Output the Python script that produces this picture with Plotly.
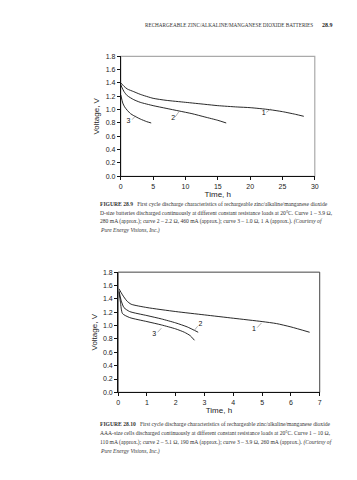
import plotly.graph_objects as go

# ---- Data: Figure 28.9 (D-size) ----
d_t1 = [0, 0.5, 1, 2, 3, 5, 7, 10, 13, 15, 18, 20, 23, 25, 27, 28.3]
d_v1 = [1.40, 1.35, 1.31, 1.27, 1.23, 1.17, 1.14, 1.11, 1.08, 1.06, 1.04, 1.03, 1.00, 0.97, 0.93, 0.90]
d_t2 = [0, 0.5, 1, 2, 3, 5, 7, 9, 11, 13, 15, 16.3]
d_v2 = [1.37, 1.27, 1.21, 1.15, 1.11, 1.06, 1.02, 0.98, 0.94, 0.89, 0.84, 0.80]
d_t3 = [0, 0.3, 0.6, 1, 1.5, 2, 3, 4, 4.7]
d_v3 = [1.22, 1.10, 1.04, 0.99, 0.94, 0.91, 0.86, 0.82, 0.80]
d_labels = ["1", "2", "3"]
d_label_t = [22.1, 8.1, 1.2]
d_label_v = [0.94, 0.87, 0.82]
d_leader_t = [[22.5, 23.2], [8.4, 9.0], [1.75, 2.3]]
d_leader_v = [[0.96, 1.01], [0.89, 0.97], [0.85, 0.91]]

# ---- Data: Figure 28.10 (AAA-size) ----
a_t1 = [0.03, 0.15, 0.3, 0.45, 1, 2, 3, 4, 5, 5.5, 6, 6.65]
a_v1 = [1.55, 1.46, 1.37, 1.32, 1.27, 1.21, 1.16, 1.11, 1.06, 1.03, 0.98, 0.90]
a_t2 = [0.03, 0.1, 0.2, 0.4, 1, 1.5, 2, 2.4, 2.78]
a_v2 = [1.52, 1.38, 1.27, 1.21, 1.15, 1.10, 1.04, 0.98, 0.90]
a_t3 = [0.03, 0.08, 0.15, 0.4, 1, 1.5, 2, 2.3, 2.5, 2.65]
a_v3 = [1.50, 1.35, 1.18, 1.12, 1.06, 1.01, 0.95, 0.90, 0.85, 0.78]
a_labels = ["1", "2", "3"]
a_label_t = [4.72, 2.86, 1.25]
a_label_v = [0.95, 1.02, 0.87]
a_leader_t = [[4.83, 4.98], [2.63, 2.76], [1.37, 1.5]]
a_leader_v = [[0.97, 1.04], [0.92, 0.99], [0.90, 0.96]]

y_ticks = [0.0, 0.2, 0.4, 0.6, 0.8, 1.0, 1.2, 1.4, 1.6, 1.8]
d_x_ticks = [0, 5, 10, 15, 20, 25, 30]
a_x_ticks = [0, 1, 2, 3, 4, 5, 6, 7]

header = "RECHARGEABLE ZINC/ALKALINE/MANGANESE DIOXIDE BATTERIES"
page_no = "28.9"
cap1 = [
    "<b>FIGURE 28.9</b>   First cycle discharge characteristics of rechargeable zinc/alkaline/manganese dioxide",
    "D-size batteries discharged continuously at different constant resistance loads at 20°C. Curve 1 – 3.9 Ω,",
    "280 mA (approx.); curve 2 – 2.2 Ω, 460 mA (approx.); curve 3 – 1.0 Ω, 1 A (approx.). <i>(Courtesy of</i>",
    "<i>Pure Energy Visions, Inc.)</i>",
]
cap2 = [
    "<b>FIGURE 28.10</b>   First cycle discharge characteristics of rechargeable zinc/alkaline/manganese dioxide",
    "AAA-size cells discharged continuously at different constant resistance loads at 20°C. Curve 1 – 10 Ω,",
    "110 mA (approx.); curve 2 – 5.1 Ω, 190 mA (approx.); curve 3 – 3.9 Ω, 260 mA (approx.). <i>(Courtesy of</i>",
    "<i>Pure Energy Visions, Inc.)</i>",
]

W, H = 357, 480
def px(x):
    return x / W
def py(y):
    return 1 - y / H

SANS = "Liberation Sans, Arial, sans-serif"
SERIF = "Liberation Serif, Times New Roman, serif"

fig = go.Figure()
line_style = dict(color="#111", width=0.9, shape="spline", smoothing=0.6)

for t, v in [(d_t1, d_v1), (d_t2, d_v2), (d_t3, d_v3)]:
    fig.add_trace(go.Scatter(x=t, y=v, mode="lines", line=line_style, xaxis="x", yaxis="y", showlegend=False))
for lt, lv in zip(d_leader_t, d_leader_v):
    fig.add_trace(go.Scatter(x=lt, y=lv, mode="lines", line=dict(color="#777", width=0.6), xaxis="x", yaxis="y", showlegend=False))
fig.add_trace(go.Scatter(x=d_label_t, y=d_label_v, mode="text", text=d_labels,
                         textfont=dict(family=SANS, size=7, color="#111"), xaxis="x", yaxis="y", showlegend=False))

for t, v in [(a_t1, a_v1), (a_t2, a_v2), (a_t3, a_v3)]:
    fig.add_trace(go.Scatter(x=t, y=v, mode="lines", line=line_style, xaxis="x2", yaxis="y2", showlegend=False))
for lt, lv in zip(a_leader_t, a_leader_v):
    fig.add_trace(go.Scatter(x=lt, y=lv, mode="lines", line=dict(color="#777", width=0.6), xaxis="x2", yaxis="y2", showlegend=False))
fig.add_trace(go.Scatter(x=a_label_t, y=a_label_v, mode="text", text=a_labels,
                         textfont=dict(family=SANS, size=7, color="#111"), xaxis="x2", yaxis="y2", showlegend=False))

tickfont = dict(family=SANS, size=7, color="#222")
titlefont = dict(family=SANS, size=8, color="#222")
axis_common = dict(showgrid=False, zeroline=False, showline=True, linecolor="#111", linewidth=1,
                   ticks="outside", ticklen=3, tickcolor="#111", tickwidth=1, tickfont=tickfont)

fig.update_layout(
    width=W, height=H, autosize=False,
    margin=dict(l=0, r=0, t=0, b=0),
    paper_bgcolor="white", plot_bgcolor="white",
    xaxis=dict(domain=[px(112.7), px(310)], range=[0, 30], tickvals=d_x_ticks, anchor="y",
               title=dict(text="Time, h", font=titlefont, standoff=2), **axis_common),
    yaxis=dict(domain=[py(166.7), py(45)], range=[0, 1.8], tickvals=y_ticks, tickformat=".1f", anchor="x",
               title=dict(text="Voltage, V", font=titlefont, standoff=4), **axis_common),
    xaxis2=dict(domain=[px(110), px(315)], range=[0, 7], tickvals=a_x_ticks, anchor="y2",
                title=dict(text="Time, h", font=titlefont, standoff=2), **axis_common),
    yaxis2=dict(domain=[py(386), py(264)], range=[0, 1.8], tickvals=y_ticks, tickformat=".1f", anchor="x2",
                title=dict(text="Voltage, V", font=titlefont, standoff=4), **axis_common),
)

# frames (top/right borders)
fig.add_shape(type="rect", xref="x domain", yref="y domain", x0=0, x1=1, y0=0, y1=1,
              line=dict(color="#aaa", width=1.2), layer="below")
fig.add_shape(type="rect", xref="x2 domain", yref="y2 domain", x0=0, x1=1, y0=0, y1=1,
              line=dict(color="#444", width=1), layer="below")

ann = []
ann.append(dict(x=px(310), y=py(13), xref="paper", yref="paper", text=header, showarrow=False,
                xanchor="right", yanchor="middle", font=dict(family=SERIF, size=5.2, color="#333")))
ann.append(dict(x=px(331), y=py(13), xref="paper", yref="paper", text="<b>" + page_no + "</b>", showarrow=False,
                xanchor="right", yanchor="middle", font=dict(family=SERIF, size=6, color="#222")))
for i, line in enumerate(cap1):
    ann.append(dict(x=px(89.5), y=py(194.5 + 9.2 * i), xref="paper", yref="paper", text=line, showarrow=False,
                    xanchor="left", yanchor="middle", font=dict(family=SERIF, size=5.6, color="#333")))
for i, line in enumerate(cap2):
    ann.append(dict(x=px(89.5), y=py(418.5 + 9.2 * i), xref="paper", yref="paper", text=line, showarrow=False,
                    xanchor="left", yanchor="middle", font=dict(family=SERIF, size=5.6, color="#333")))
fig.update_layout(annotations=ann)

fig.write_html("out.html")
